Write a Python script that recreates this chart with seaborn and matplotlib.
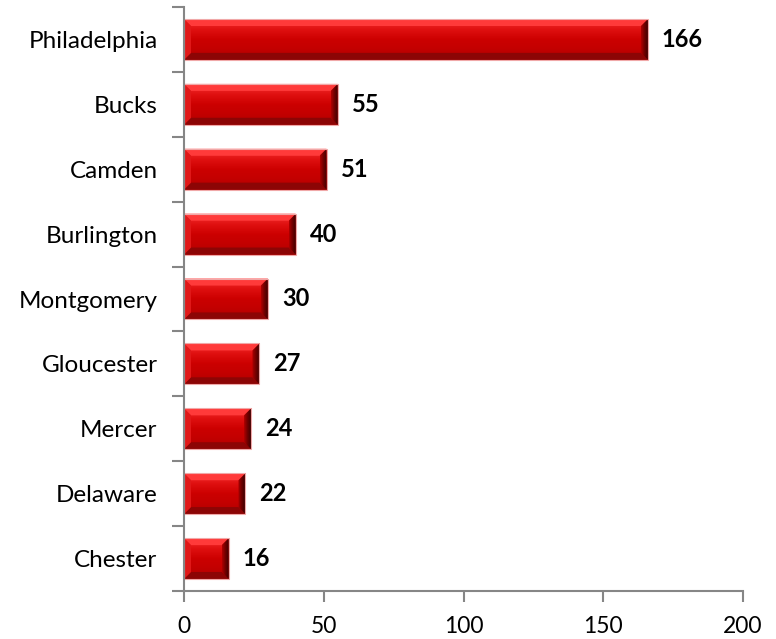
import numpy as np
import matplotlib
matplotlib.use("Agg")
import matplotlib.pyplot as plt
import pandas as pd
import seaborn as sns
from matplotlib.patches import Polygon, Rectangle
from matplotlib.colors import LinearSegmentedColormap

# Counts per county
counties = ["Philadelphia", "Bucks", "Camden", "Burlington", "Montgomery",
            "Gloucester", "Mercer", "Delaware", "Chester"]
counts = [166, 55, 51, 40, 30, 27, 24, 22, 16]
x_ticks = [0, 50, 100, 150, 200]

sns.set_theme(style="white")
plt.rcParams["font.family"] = ["Lato", "DejaVu Sans"]

W, H = 776, 639
fig = plt.figure(figsize=(W / 100, H / 100), dpi=100)
ax = fig.add_axes([184 / W, 48 / H, 559 / W, 584 / H])

df = pd.DataFrame({"county": counties, "count": counts})
sns.barplot(data=df, x="count", y="county", orient="h", color="#cc0000",
            saturation=1, width=0.63, ax=ax)

ax.set_xlim(0, 200)
ax.set_ylim(len(counties) - 0.5, -0.5)
ax.set_xlabel("")
ax.set_ylabel("")

# bevel size in data units (about 7 px each way)
px_x = 200 / 559
px_y = len(counties) / 584
bx, by = 7 * px_x, 7 * px_y

face_cmap = LinearSegmentedColormap.from_list(
    "face", ["#f23030", "#e01010", "#cc0000", "#c20000", "#b00000"])
right_cmap = LinearSegmentedColormap.from_list(
    "rend", ["#b00000", "#700000", "#400000"])

for p, v in zip(list(ax.patches), counts):
    x0, y0 = p.get_x(), p.get_y()
    x1, y1 = x0 + p.get_width(), y0 + p.get_height()
    p.set_edgecolor("none")
    # inner face with a vertical gradient
    grad = np.linspace(0, 1, 64).reshape(-1, 1)
    im = ax.imshow(grad, cmap=face_cmap, aspect="auto",
                   extent=(x0, x1, y1, y0), zorder=3, interpolation="bilinear")
    im.set_clip_path(p)
    # top bevel (bright)
    ax.add_patch(Polygon([(x0, y0), (x1, y0), (x1 - bx, y0 + by), (x0 + bx, y0 + by)],
                         closed=True, facecolor="#ff3a3a", edgecolor="none", zorder=4))
    # bottom bevel (dark)
    ax.add_patch(Polygon([(x0, y1), (x1, y1), (x1 - bx, y1 - by), (x0 + bx, y1 - by)],
                         closed=True, facecolor="#8c0505", edgecolor="none", zorder=4))
    # left bevel
    ax.add_patch(Polygon([(x0, y0), (x0 + bx, y0 + by), (x0 + bx, y1 - by), (x0, y1)],
                         closed=True, facecolor="#e01818", edgecolor="none", zorder=4))
    # right bevel (darkest) with a horizontal gradient
    rpoly = Polygon([(x1, y0), (x1 - bx, y0 + by), (x1 - bx, y1 - by), (x1, y1)],
                    closed=True, facecolor="none", edgecolor="none", zorder=4)
    ax.add_patch(rpoly)
    rg = np.linspace(0, 1, 32).reshape(1, -1)
    rim = ax.imshow(rg, cmap=right_cmap, aspect="auto",
                    extent=(x1 - bx, x1, y1, y0), zorder=4, interpolation="bilinear")
    rim.set_clip_path(rpoly)
    # light rim
    ax.add_patch(Rectangle((x0, y0), x1 - x0, y1 - y0, facecolor="none",
                           edgecolor="#f0a8a8", linewidth=0.8, zorder=5))
    # value label
    ax.text(x1 + 14 * px_x, (y0 + y1) / 2, str(v), va="center", ha="left",
            fontsize=17, fontweight="bold", color="black", zorder=6)

ax.set_xlim(0, 200)
ax.set_ylim(len(counties) - 0.5, -0.5)

for s in ["top", "right"]:
    ax.spines[s].set_visible(False)
for s in ["left", "bottom"]:
    ax.spines[s].set_color("#868686")
    ax.spines[s].set_linewidth(1.5)
    ax.spines[s].set_zorder(7)

ax.set_xticks(x_ticks)
ax.set_xticklabels([str(t) for t in x_ticks])
ax.set_yticks(range(len(counties)))
ax.set_yticklabels(counties)
ax.set_yticks(np.arange(-0.5, len(counties), 1.0), minor=True)

ax.tick_params(axis="x", which="major", direction="out", length=8, width=1.5,
               color="#868686", labelsize=16.5, pad=10, labelcolor="black", bottom=True)
ax.tick_params(axis="y", which="major", length=0, labelsize=17.5, pad=19,
               labelcolor="black", left=True)
ax.tick_params(axis="y", which="minor", direction="out", length=9, width=1.5,
               color="#868686", left=True)
ax.grid(False)

fig.savefig("out.png", dpi=100)
